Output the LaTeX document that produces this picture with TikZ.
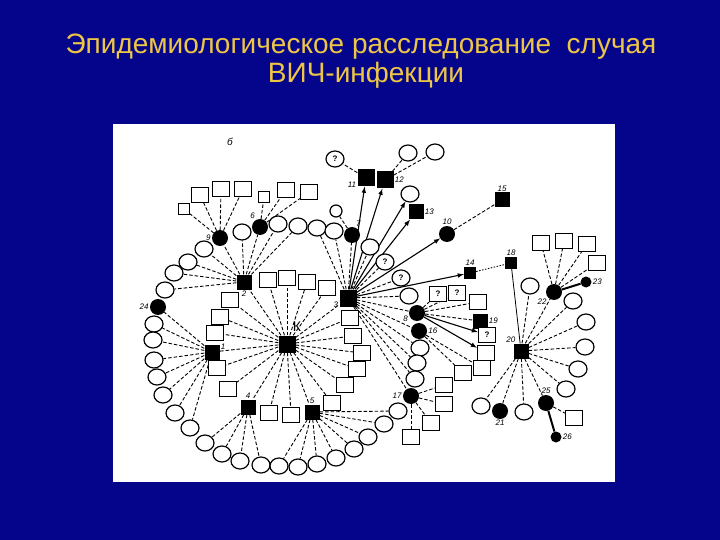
\documentclass[tikz,border=0pt]{standalone}
\usepackage{fontspec}
\setmainfont{Liberation Sans}
\usetikzlibrary{shapes.geometric}
\definecolor{slideblue}{RGB}{5,5,140}
\definecolor{titleyellow}{RGB}{238,198,70}
\pgfdeclarelayer{bg}
\pgfsetlayers{bg,main}

\begin{document}
\begin{tikzpicture}[x=1pt,y=-1pt,>=latex]

%
% Styles
%
\tikzstyle{title} = [text=titleyellow,font=\fontsize{28}{28}\selectfont,anchor=base,inner sep=0pt]
\tikzstyle{hubsq} = [rectangle,fill=black,minimum size=15pt,inner sep=0pt]
\tikzstyle{hubci} = [circle,fill=black,minimum size=16pt,inner sep=0pt]
\tikzstyle{wsq} = [rectangle,draw,line width=1.2pt,fill=white,minimum width=17pt,minimum height=15pt,inner sep=0pt,font=\fontsize{8}{8}\selectfont\bfseries]
\tikzstyle{wci} = [ellipse,draw,line width=1.2pt,fill=white,minimum width=18pt,minimum height=16pt,inner sep=0pt,font=\fontsize{8}{8}\selectfont\bfseries]
\tikzstyle{num} = [font=\fontsize{8}{8}\selectfont\itshape,inner sep=1pt,label distance=0pt]
\tikzstyle{spoke} = [line width=0.9pt,dash pattern=on 3.5pt off 2pt]
\tikzstyle{arr} = [->,line width=1.1pt]

\useasboundingbox (0,0) rectangle (720,540);

%
% Title
%
\node[title] (t1) at (361,54) {Эпидемиологическое расследование\ \ случая};
\node[title] (t2) at (366,83) {ВИЧ-инфекции};
\node[num,font=\fontsize{10}{10}\selectfont\itshape] (b) at (230,142) {б};

%
% Cases
%
\node[hubsq,minimum size=17pt,label={[font=\fontsize{14}{14}\selectfont]75:К}] (k) at (287,344) {};
\node[hubsq,label={[num]10:1}] (n1) at (212,352) {};
\node[hubsq,label={[num]below:2}] (n2) at (244,282) {};
\node[hubsq,minimum size=17pt,label={[num]200:3}] (n3) at (348,298) {};
\node[hubsq,label={[num]above:4}] (n4) at (248,407) {};
\node[hubsq,label={[num]above:5}] (n5) at (312,412) {};
\node[hubci,label={[num]120:6}] (n6) at (260,227) {};
\node[hubci,label={[num]70:7}] (n7) at (352,235) {};
\node[hubci,label={[num]190:8}] (n8) at (417,313) {};
\node[hubci,label={[num]left:9}] (n9) at (220,238) {};
\node[hubci,label={[num]above:10}] (n10) at (447,234) {};
\node[hubsq,minimum size=17pt,label={[num]200:11}] (n11) at (366,178) {};
\node[hubsq,minimum size=17pt,label={[num]right:12}] (n12) at (385,180) {};
\node[hubsq,label={[num]right:13}] (n13) at (416,212) {};
\node[hubsq,minimum size=12pt,label={[num]above:14}] (n14) at (470,273) {};
\node[hubsq,label={[num]above:15}] (n15) at (502,200) {};
\node[hubci,label={[num]right:16}] (n16) at (419,331) {};
\node[hubci,label={[num]left:17}] (n17) at (411,396) {};
\node[hubsq,minimum size=12pt,label={[num]above:18}] (n18) at (511,263) {};
\node[hubsq,label={[num]right:19}] (n19) at (480,321) {};
\node[hubsq,label={[num]120:20}] (n20) at (521,351) {};
\node[hubci,label={[num]below:21}] (n21) at (500,411) {};
\node[hubci,label={[num]220:22}] (n22) at (554,292) {};
\node[hubci,minimum size=11pt,label={[num]right:23}] (n23) at (586,282) {};
\node[hubci,label={[num]left:24}] (n24) at (158,307) {};
\node[hubci,label={[num]above:25}] (n25) at (546,403) {};
\node[hubci,minimum size=11pt,label={[num]right:26}] (n26) at (556,437) {};

%
% Contacts
%
\foreach \x/\y [count=\i] in {268/280,287/278,307/282,327/288,230/300,220/317,215/333,217/368,228/389,269/413,291/415,332/403,350/318,353/336,362/353,357/369,345/385}
  \node[wsq] (kq\i) at (\x,\y) {};
\foreach \x/\y [count=\i] in {154/324,153/340,154/360,157/377,163/395,175/413,190/428}
  \node[wci] (one\i) at (\x,\y) {};
\foreach \x/\y [count=\i] in {165/290,174/273,188/262,204/249,242/232,278/224,298/226}
  \node[wci] (two\i) at (\x,\y) {};
\foreach \x/\y [count=\i] in {317/228,334/231,370/247,409/296,420/348,417/363,415/379}
  \node[wci] (three\i) at (\x,\y) {};
\foreach \x/\y [count=\i] in {205/443,222/454,240/461,261/465}
  \node[wci] (four\i) at (\x,\y) {};
\foreach \x/\y [count=\i] in {279/466,298/467,317/464,336/458,354/449,368/437,384/424,398/411}
  \node[wci] (five\i) at (\x,\y) {};
\foreach \x/\y [count=\i] in {200/195,221/189,243/189}
  \node[wsq] (nine\i) at (\x,\y) {};
\node[wsq,minimum size=11pt] (nine0) at (184,209) {};
\foreach \x/\y [count=\i] in {286/190,309/192}
  \node[wsq] (six\i) at (\x,\y) {};
\node[wsq,minimum size=11pt] (six0) at (264,197) {};
\node[wci,minimum size=12pt] (seven1) at (336,211) {};
\node[wci] (q1) at (385,262) {?};
\node[wci] (q2) at (401,278) {?};
\node[wci] (q3) at (335,159) {?};
\node[wci] (twelve1) at (408,153) {};
\node[wci] (twelve2) at (435,152) {};
\node[wci] (thirteen1) at (410,194) {};
\node[wsq] (q4) at (438,294) {?};
\node[wsq] (q5) at (457,293) {?};
\node[wsq] (eight1) at (478,302) {};
\node[wsq] (q6) at (487,335) {?};
\node[wsq] (eight2) at (486,353) {};
\node[wsq] (sixteen1) at (482,368) {};
\node[wsq] (sixteen2) at (463,373) {};
\foreach \x/\y [count=\i] in {444/385,444/404,431/423,411/437}
  \node[wsq] (seventeen\i) at (\x,\y) {};
\foreach \x/\y [count=\i] in {530/286,573/301,586/322,585/347,578/369,566/389,524/412,481/406}
  \node[wci] (twenty\i) at (\x,\y) {};
\foreach \x/\y [count=\i] in {541/243,564/241,587/244,597/263}
  \node[wsq] (twentytwo\i) at (\x,\y) {};
\node[wsq] (twentyfive1) at (574,418) {};

%
% Links
%
\begin{pgfonlayer}{bg}
\fill[slideblue] (0,0) rectangle (720,540);
\fill[white] (113,124) rectangle (615,482);
\foreach \i in {1,...,17} \draw[spoke] (k) -- (kq\i);
\foreach \n in {n1,n2,n3,n4,n5} \draw[spoke] (k) -- (\n);
\foreach \i in {1,...,7} \draw[spoke] (n1) -- (one\i);
\draw[spoke] (n1) -- (n24);
\foreach \i in {1,...,7} \draw[spoke] (n2) -- (two\i);
\draw[spoke] (n2) -- (n9);
\draw[spoke] (n2) -- (n6);
\foreach \i in {0,...,3} \draw[spoke] (n9) -- (nine\i);
\foreach \i in {0,...,2} \draw[spoke] (n6) -- (six\i);
\foreach \i in {1,...,7} \draw[spoke] (n3) -- (three\i);
\foreach \n in {n7,n8,n16,n17,q1,q2} \draw[spoke] (n3) -- (\n);
\draw[spoke] (n7) -- (seven1);
\foreach \i in {1,...,4} \draw[spoke] (n4) -- (four\i);
\foreach \i in {1,...,8} \draw[spoke] (n5) -- (five\i);
\foreach \n in {q4,q5,eight1,n19} \draw[spoke] (n8) -- (\n);
\draw[arr] (n8) -- (q6);
\draw[arr] (n8) -- (eight2);
\draw[spoke] (n16) -- (sixteen1);
\draw[spoke] (n16) -- (sixteen2);
\foreach \i in {1,...,4} \draw[spoke] (n17) -- (seventeen\i);
\foreach \n in {n11,n12,thirteen1,n13,n10,n14} \draw[arr] (n3) -- (\n);
\draw[spoke] (n11) -- (q3);
\draw[spoke] (n12) -- (twelve1);
\draw[spoke] (n12) -- (twelve2);
\draw[spoke] (n10) -- (n15);
\draw[line width=0.9pt,dash pattern=on 1.5pt off 1.5pt] (n14) -- (n18);
\draw[line width=0.8pt] (n18) -- (n20);
\foreach \i in {1,...,8} \draw[spoke] (n20) -- (twenty\i);
\foreach \n in {n21,n22,n25} \draw[spoke] (n20) -- (\n);
\foreach \i in {1,...,4} \draw[spoke] (n22) -- (twentytwo\i);
\draw[line width=2pt] (n22) -- (n23);
\draw[spoke] (n25) -- (twentyfive1);
\draw[line width=2pt] (n25) -- (n26);
\end{pgfonlayer}

\end{tikzpicture}
\end{document}
